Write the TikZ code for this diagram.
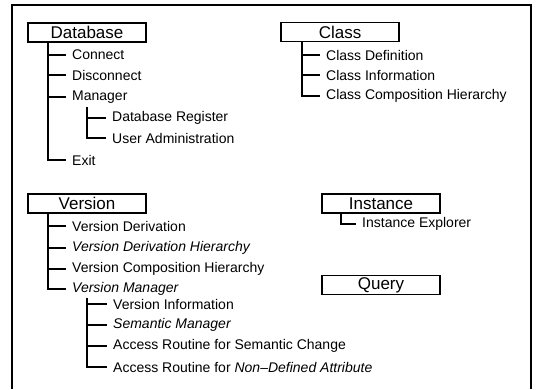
\documentclass[tikz,border=0pt]{standalone}
\usepackage{fontspec}
\setmainfont{Liberation Sans}
\usetikzlibrary{arrows,shapes}
\tikzstyle{menubox}=[draw,line width=1.5pt,rectangle,minimum width=118pt,minimum height=19pt,inner sep=0pt,font=\fontsize{17}{18}\selectfont]
\tikzstyle{item}=[anchor=west,inner xsep=6pt,inner ysep=0pt,font=\fontsize{14}{15}\selectfont]
\tikzstyle{edge} = [draw,line width=1.2pt,-]
\tikzstyle{frame} = [draw,line width=1.1pt]

\begin{document}
\begin{tikzpicture}[x=1pt,y=-1pt]
                    \path [use as bounding box] (0,0) rectangle (537,389);
                    \path[frame] (12,389) -- (12,5) -- (531,5) -- (531,389);

                    % Database
                    \node[menubox] (db) at (87,32.5) {Database};
                    \coordinate (dbt) at (48,42);
                    \node[item] (conn) at (66,55) {Connect};
                    \node[item] (disc) at (66,75) {Disconnect};
                    \node[item] (mgr) at (66,97) {Manager};
                    \node[item] (exit) at (66,160) {Exit};
                    \coordinate (mgrt) at (87,107);
                    \node[item] (dbreg) at (106,118) {Database Register};
                    \node[item] (usr) at (106,138) {User Administration};

                    \path[edge] (dbt) |- (conn);
                    \path[edge] (dbt) |- (disc);
                    \path[edge] (dbt) |- (mgr);
                    \path[edge] (dbt) |- (exit);
                    \path[edge] (mgrt) |- (dbreg);
                    \path[edge] (mgrt) |- (usr);

                    % Class
                    \node[menubox] (cls) at (340,32) {Class};
                    \coordinate (clst) at (302,42);
                    \node[item] (cdef) at (320,55) {Class Definition};
                    \node[item] (cinf) at (320,75) {Class Information};
                    \node[item] (chier) at (320,96) {Class Composition Hierarchy};

                    \path[edge] (clst) |- (cdef);
                    \path[edge] (clst) |- (cinf);
                    \path[edge] (clst) |- (chier);

                    % Version
                    \node[menubox] (ver) at (87,203.5) {Version};
                    \coordinate (vert) at (48,213);
                    \node[item] (vder) at (66,226) {Version Derivation};
                    \node[item] (vdh) at (66,248) {\itshape Version Derivation Hierarchy};
                    \node[item] (vch) at (66,269) {Version Composition Hierarchy};
                    \node[item] (vmgr) at (66,289) {\itshape Version Manager};
                    \coordinate (vmgrt) at (87,298);
                    \node[item] (vinf) at (107,304) {Version Information};
                    \node[item] (smgr) at (107,325) {\itshape Semantic Manager};
                    \node[item] (asc) at (107,346) {Access Routine for Semantic Change};
                    \node[item] (andf) at (107,367) {Access Routine for \itshape Non–Defined Attribute};

                    \path[edge] (vert) |- (vder);
                    \path[edge] (vert) |- (vdh);
                    \path[edge] (vert) |- (vch);
                    \path[edge] (vert) |- (vmgr);
                    \path[edge] (vmgrt) |- (vinf);
                    \path[edge] (vmgrt) |- (smgr);
                    \path[edge] (vmgrt) |- (asc);
                    \path[edge] (vmgrt) |- (andf);

                    % Instance, Query
                    \node[menubox] (inst) at (381,203.5) {Instance};
                    \coordinate (instt) at (341,213);
                    \node[item] (iexp) at (356,224) {Instance Explorer};
                    \path[edge] (instt) |- (iexp);

                    \node[menubox] (qry) at (381,285) {Query};
                \end{tikzpicture}
\end{document}
